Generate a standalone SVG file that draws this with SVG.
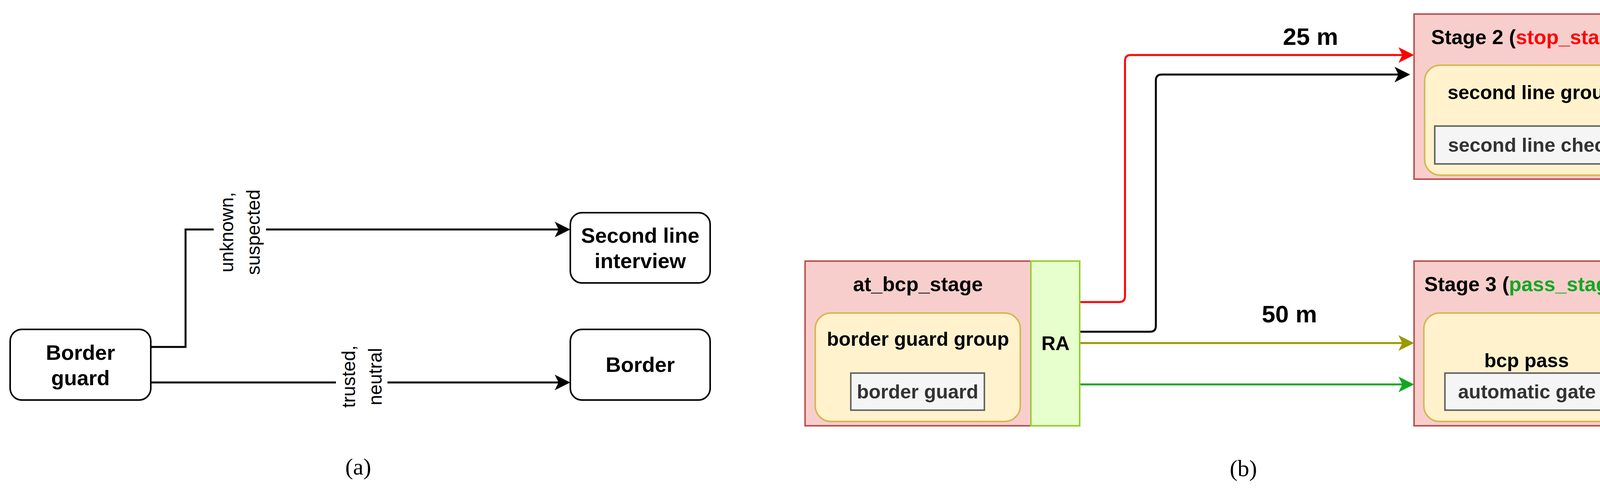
<svg xmlns="http://www.w3.org/2000/svg" width="4360" height="1253" viewBox="0 0 4360 1253">
<style>
.t{font-family:"Liberation Sans",Arial,sans-serif;font-weight:bold;text-anchor:middle;dominant-baseline:central}
.n{font-family:"Liberation Sans",Arial,sans-serif;text-anchor:middle;dominant-baseline:central;font-size:48px}
.cap{font-family:"Liberation Serif","Times New Roman",serif;text-anchor:middle;dominant-baseline:central;font-size:60px}
.box{fill:#fff;stroke:#000;stroke-width:4}
.st{fill:#f8cecc;stroke:#b85450;stroke-width:4}
.ra{fill:#e6ffcc;stroke:#99cc33;stroke-width:4}
.gr{fill:#fff2cc;stroke:#d6b656;stroke-width:4}
.gy{fill:#f5f5f5;stroke:#666;stroke-width:4}
.c{fill:none;stroke-width:5}
</style>
<defs>
<marker id="ak" markerWidth="8" markerHeight="8" refX="7" refY="4" orient="auto" markerUnits="strokeWidth"><path d="M0,0L8,4L0,8L2,4z" fill="#000"/></marker>
<marker id="ar" markerWidth="8" markerHeight="8" refX="7" refY="4" orient="auto" markerUnits="strokeWidth"><path d="M0,0L8,4L0,8L2,4z" fill="#ff0000"/></marker>
<marker id="ao" markerWidth="8" markerHeight="8" refX="7" refY="4" orient="auto" markerUnits="strokeWidth"><path d="M0,0L8,4L0,8L2,4z" fill="#999900"/></marker>
<marker id="ag" markerWidth="8" markerHeight="8" refX="7" refY="4" orient="auto" markerUnits="strokeWidth"><path d="M0,0L8,4L0,8L2,4z" fill="#13a821"/></marker>
</defs>
<g id="connectors">
<path class="c" stroke="#000" d="M386,889H475V588H1455" marker-end="url(#ak)"/>
<path class="c" stroke="#000" d="M386,980H1455" marker-end="url(#ak)"/>
<path class="c" stroke="#ff0000" d="M2764,774H2865Q2880,774 2880,759V156Q2880,141 2895,141H3615" marker-end="url(#ar)"/>
<path class="c" stroke="#000" d="M2761,850H2944Q2959,850 2959,835V206Q2959,191 2974,191H3605" marker-end="url(#ak)"/>
<path class="c" stroke="#999900" d="M2764,879H3615" marker-end="url(#ao)"/>
<path class="c" stroke="#13a821" d="M2764,985H3615" marker-end="url(#ag)"/>
</g>
<g id="lbl1"><rect x="547" y="470" width="134" height="250" fill="#fff"/><text class="n" transform="translate(614,595) rotate(-90)"><tspan x="0" dy="-34">unknown,</tspan><tspan x="0" dy="68">suspected</tspan></text></g>
<g id="lbl2"><rect x="860" y="870" width="132" height="190" fill="#fff"/><text class="n" transform="translate(926,965) rotate(-90)"><tspan x="0" dy="-34">trusted,</tspan><tspan x="0" dy="68">neutral</tspan></text></g>
<g id="bguard"><rect class="box" x="26" y="844" width="360" height="181" rx="30"/><text class="t" font-size="54"><tspan x="206" y="903">Border</tspan><tspan x="206" y="968">guard</tspan></text></g>
<g id="sli"><rect class="box" x="1460" y="545" width="358" height="180" rx="30"/><text class="t" font-size="54"><tspan x="1639" y="603">Second line</tspan><tspan x="1639" y="668">interview</tspan></text></g>
<g id="border"><rect class="box" x="1460" y="844" width="358" height="181" rx="30"/><text class="t" font-size="54" x="1639" y="934">Border</text></g>
<text class="cap" x="917" y="1196">(a)</text>

<g id="atbcp">
<rect class="st" x="2061" y="669" width="578" height="422"/>
<rect class="ra" x="2639" y="669" width="125" height="422"/>
<rect class="gr" x="2087" y="802" width="525" height="278" rx="40"/>
<rect class="gy" x="2178" y="956" width="342" height="95"/>
<text class="t" font-size="52" x="2350" y="728">at_bcp_stage</text>
<text class="t" font-size="50" x="2350" y="869">border guard group</text>
<text class="t" font-size="50" x="2349" y="1004" fill="#333">border guard</text>
<text class="t" font-size="50" x="2702" y="880">RA</text>
</g>
<g id="stage2">
<rect class="st" x="3620" y="36" width="605" height="423"/>
<rect class="ra" x="4225" y="36" width="131" height="423"/>
<rect class="gr" x="3647" y="167" width="548" height="282" rx="40"/>
<rect class="gy" x="3673" y="323" width="499" height="97"/>
<text class="t" font-size="52" x="3918" y="95">Stage 2 (<tspan fill="#ff0000">stop_stage</tspan>)</text>
<text class="t" font-size="50" x="3921" y="237">second line group</text>
<text class="t" font-size="50" x="3922" y="372" fill="#333">second line check</text>
<text class="t" font-size="50" x="4290" y="247">RA</text>
</g>
<g id="stage3">
<rect class="st" x="3620" y="669" width="578" height="422"/>
<rect class="ra" x="4198" y="669" width="128" height="422"/>
<rect class="gr" x="3645" y="802" width="527" height="278" rx="40"/>
<rect class="gy" x="3699" y="956" width="421" height="95"/>
<text class="t" font-size="52" x="3905" y="728">Stage 3 (<tspan fill="#13a821">pass_stage</tspan>)</text>
<text class="t" font-size="50" x="3908" y="924">bcp pass</text>
<text class="t" font-size="50" x="3909" y="1004" fill="#333">automatic gate</text>
<text class="t" font-size="50" x="4262" y="880">RA</text>
</g>
<text class="t" font-size="62" x="3355" y="93">25 m</text>
<text class="t" font-size="62" x="3301" y="804">50 m</text>
<text class="cap" x="3183" y="1200">(b)</text>
</svg>
